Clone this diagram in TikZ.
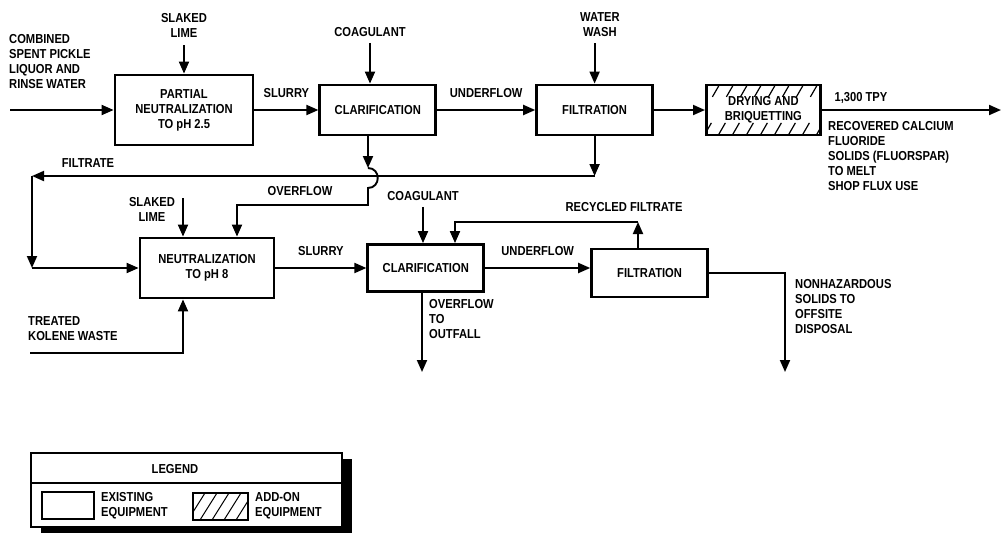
\documentclass[tikz,border=0pt]{standalone}
\usepackage{fontspec}
\setmainfont{Liberation Sans Bold}[FakeStretch=0.86]
\usepackage{tikz}
\usetikzlibrary{arrows.meta, positioning, shadows}

\begin{document}
\begin{tikzpicture}[
    x=1pt, y=1pt,
    every node/.style={font=\fontsize{13}{15}\selectfont},
    unitbox/.style={rectangle, draw, line width=2.8pt, minimum width=116pt, minimum height=50pt, align=center, inner sep=1pt},
    note/.style={align=left, inner sep=0pt},
    arrow/.style={-{Triangle[length=12pt,width=10pt]}, line width=1.9pt},
    rowhatch/.style={path picture={
        \foreach \k in {-30,-16,...,114}
          \draw[line width=1.2pt, dash pattern=on 14pt off 30pt on 14pt off 30pt]
            ([xshift=\k pt]path picture bounding box.south west) -- ++(30pt,52pt);}},
    fullhatch/.style={path picture={
        \foreach \k in {-17,-5,...,55}
          \draw[line width=1pt] ([xshift=\k pt]path picture bounding box.south west) -- ++(17pt,27pt);}}
]
\useasboundingbox (0,0) rectangle (1005,-533);
\node (pn) [unitbox, minimum width=138pt, minimum height=70pt] at (184,-110) {PARTIAL\\NEUTRALIZATION\\TO pH 2.5};
\node (cl1) [unitbox, right=64pt of pn] {CLARIFICATION};
\node (fi1) [unitbox, right=98pt of cl1] {FILTRATION};
\node (dr) [unitbox, rowhatch, minimum width=114pt, right=51pt of fi1] {DRYING AND\\BRIQUETTING};
\node (ne) [unitbox, minimum width=134pt, minimum height=60pt] at (207,-268) {NEUTRALIZATION\\TO pH 8};
\node (cl2) [unitbox, minimum height=47pt, right=91pt of ne] {CLARIFICATION};
\node (fi2) [unitbox, minimum height=48pt, right=105pt of cl2, yshift=-5pt] {FILTRATION};

\node (feed) [note, anchor=north west] at (9,-34) {COMBINED\\SPENT PICKLE\\LIQUOR AND\\RINSE WATER};
\node (lime1) [note, align=center] at (184,-25) {SLAKED\\LIME};
\node (coag1) [note] at (370,-32) {COAGULANT};
\node (wash) [note, align=center] at (600,-25) {WATER\\WASH};
\node (tpy) [note] at (861,-98) {1,300 TPY};
\node (rec) [note, anchor=north west] at (828,-121) {RECOVERED CALCIUM\\FLUORIDE\\SOLIDS (FLUORSPAR)\\TO MELT\\SHOP FLUX USE};
\node (filt) [note] at (88,-163) {FILTRATE};
\node (ovf) [note] at (300,-191) {OVERFLOW};
\node (lime2) [note, align=center] at (152,-209) {SLAKED\\LIME};
\node (kol) [note, anchor=north west] at (28,-316) {TREATED\\KOLENE WASTE};
\node (coag2) [note] at (423,-196) {COAGULANT};
\node (rfl) [note] at (624,-207) {RECYCLED FILTRATE};
\node (oft) [note, anchor=north west] at (429,-299) {OVERFLOW\\TO\\OUTFALL};
\node (nht) [note, anchor=north west] at (795,-279) {NONHAZARDOUS\\SOLIDS TO\\OFFSITE\\DISPOSAL};

\coordinate (in1) at (10,-110);
\coordinate (out1) at (1001,-110);
\coordinate (ov) at (368,-168);
\coordinate (fl) at (32,-176);
\coordinate (fb) at (32,-268);
\coordinate (l2) at (183,-198);
\coordinate (kw) at (30,-353);
\coordinate (rc) at (638,-222);
\coordinate (rl) at (455,-222);
\coordinate (of) at (422,-372);
\coordinate (nh) at (785,-372);

\draw [arrow] (in1) -- (pn.west);
\draw [arrow] ([yshift=-8pt]lime1.south) -- (pn.north);
\draw [arrow] (pn) -- node[above=8pt] {SLURRY} (cl1);
\draw [arrow] ([yshift=-6pt]coag1.south) -- (coag1.south |- cl1.north);
\draw [arrow] (cl1) -- node[above=8pt] {UNDERFLOW} (fi1);
\draw [arrow] ([yshift=-6pt]wash.south -| fi1.north) -- (fi1.north);
\draw [arrow] (fi1) -- (dr);
\draw [arrow] (dr.east) -- (out1);
\draw [arrow] (fi1.south) -- (fi1.south |- fl);
\draw [arrow] (fi1.south |- fl) -- (fl);
\draw [arrow] (fl) -- (fb);
\draw [arrow] (fb) -- (ne.west);
\draw [arrow] (ov |- cl1.south) -- (ov);
\draw [arrow] (ov) .. controls (381,-168) and (381,-188) .. (368,-188) -- (368,-205) -| ([xshift=30pt]ne.north);
\draw [arrow] (l2) -- (l2 |- ne.north);
\draw [arrow] (kw) -| ([xshift=-24pt]ne.south);
\draw [arrow] (ne) -- node[above=8pt] {SLURRY} (cl2);
\draw [arrow] ([yshift=-6pt]coag2.south) -- (coag2.south |- cl2.north);
\draw [arrow] (cl2) -- node[above=8pt] {UNDERFLOW} (cl2 -| fi2.west);
\draw [arrow] (rc |- fi2.north) -- (rc);
\draw [arrow] (rc) -- (rl) -- (rl |- cl2.north);
\draw [arrow] (of |- cl2.south) -- (of);
\draw [arrow] (fi2.east) -| (nh);

\node (leg) [draw, fill=white, line width=1.8pt, minimum width=311pt, minimum height=74pt,
  drop shadow={shadow xshift=10pt, shadow yshift=-6pt, fill=black, opacity=1}] at (186.5,-490) {};
\draw [line width=1.8pt] (leg.west |- 0,-483) -- (leg.east |- 0,-483);
\node (legt) [note] at (175,-469) {LEGEND};
\node (exb) [draw, line width=1.5pt, minimum width=52pt, minimum height=27pt] at (68,-505.5) {};
\node (ext) [note, anchor=west] at (101,-505.5) {EXISTING\\EQUIPMENT};
\node (adb) [draw, line width=1.5pt, fullhatch, minimum width=55pt, minimum height=27pt] at (220.5,-506.5) {};
\node (adt) [note, anchor=west] at (255,-506) {ADD-ON\\EQUIPMENT};
\end{tikzpicture}
\end{document}
